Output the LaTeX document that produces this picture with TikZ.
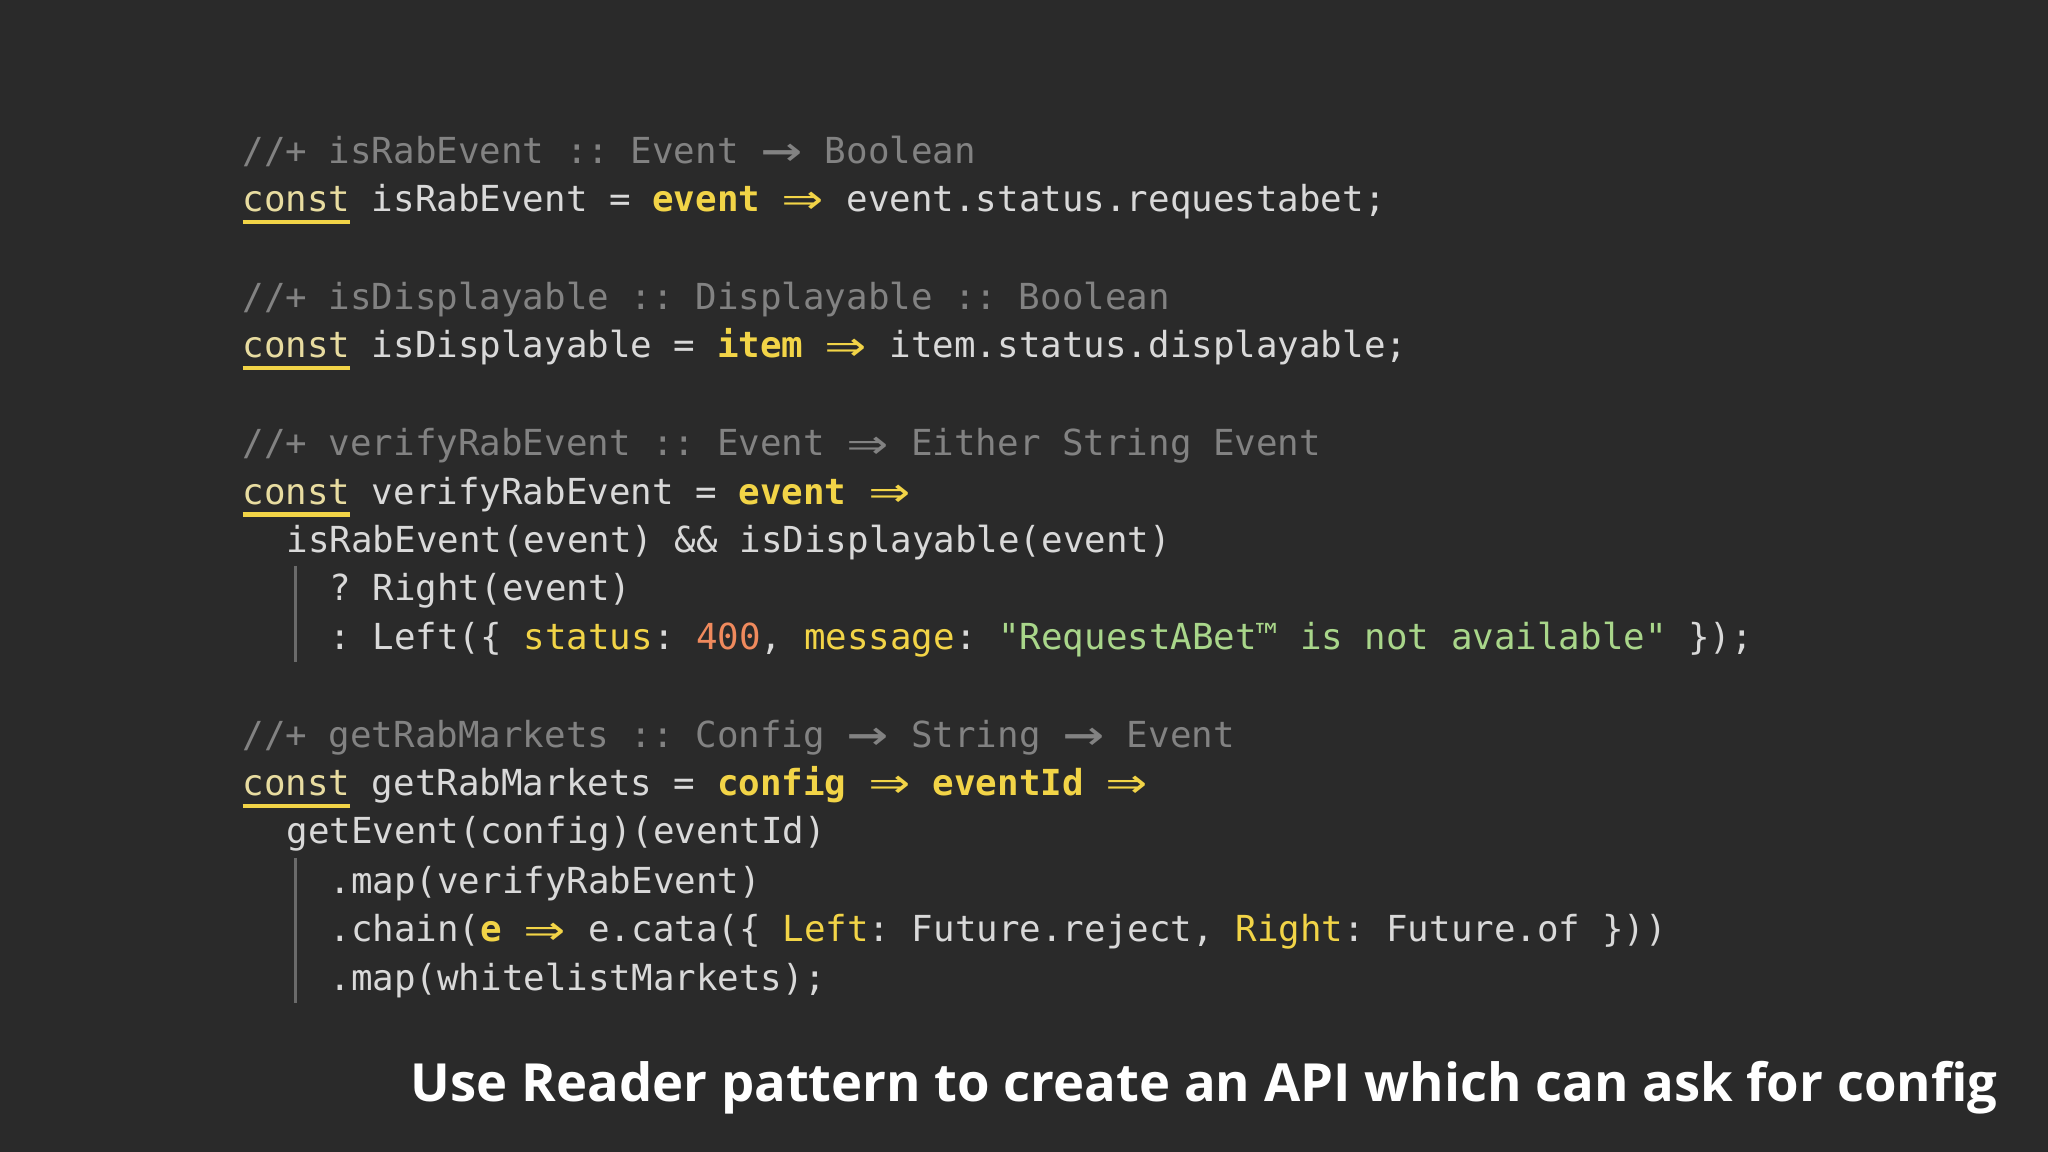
\documentclass[tikz,border=0pt]{standalone}
\usepackage{fontspec}
\usepackage{graphicx}
\setmonofont{DejaVu Sans Mono}
\newfontfamily\capfont{Open Sans}
\definecolor{bg}{HTML}{2A2A2A}
\definecolor{cm}{HTML}{828282}
\definecolor{tx}{HTML}{D9D9D9}
\definecolor{yl}{HTML}{F2D447}
\definecolor{cs}{HTML}{E8DCA0}
\definecolor{nm}{HTML}{F08A5D}
\definecolor{st}{HTML}{A9D68A}
\definecolor{br}{HTML}{6A6A6A}
\newcommand\ar[1]{\makebox[1.204em]{\raisebox{-0.12em}{\scalebox{1.9}[1.5]{#1}}}}
\newcommand\cst{\textcolor{cs}{const}\llap{\textcolor{yl}{\rule[-0.35em]{3.01em}{0.12em}}}}
\newcommand\ky[1]{\textcolor{yl}{\bfseries #1}}
\begin{document}
\begin{tikzpicture}[x=0.01cm,y=-0.01cm,
  ln/.style={anchor=base west,inner sep=0pt,text=tx,font=\ttfamily\fontsize{7.8}{9}\selectfont},
  cmt/.style={ln,text=cm},
  bar/.style={draw=br,line width=0.6pt}]
\fill[bg] (0,0) rectangle (1568,882);
\useasboundingbox (0,0) rectangle (1568,882);
\node[cmt] (c1) at (185,125) {//+ isRabEvent :: Event \ar{→} Boolean};
\node[ln] (l1) at (185,162) {\cst{} isRabEvent = \ky{event} \ar{\textcolor{yl}{⇒}} event.status.requestabet;};
\node[cmt] (c2) at (185,237) {//+ isDisplayable :: Displayable :: Boolean};
\node[ln] (l2) at (185,274) {\cst{} isDisplayable = \ky{item} \ar{\textcolor{yl}{⇒}} item.status.displayable;};
\node[cmt] (c3) at (185,349) {//+ verifyRabEvent :: Event \ar{⇒} Either String Event};
\node[ln] (l3) at (185,386) {\cst{} verifyRabEvent = \ky{event} \ar{\textcolor{yl}{⇒}}};
\node[ln] (l4) at (218.8,423) {isRabEvent(event) \&\& isDisplayable(event)};
\node[ln] (l5) at (251.6,460) {? Right(event)};
\node[ln] (l6) at (251.6,497) {: Left(\{ \textcolor{yl}{status}: \textcolor{nm}{400}, \textcolor{yl}{message}: \textcolor{st}{"RequestABet™ is not available"} \});};
\node[cmt] (c4) at (185,572) {//+ getRabMarkets :: Config \ar{→} String \ar{→} Event};
\node[ln] (l7) at (185,609) {\cst{} getRabMarkets = \ky{config} \ar{\textcolor{yl}{⇒}} \ky{eventId} \ar{\textcolor{yl}{⇒}}};
\node[ln] (l8) at (218.8,646) {getEvent(config)(eventId)};
\node[ln] (l9) at (251.6,684) {.map(verifyRabEvent)};
\node[ln] (l10) at (251.6,721) {.chain(\ky{e} \ar{\textcolor{yl}{⇒}} e.cata(\{ \textcolor{yl}{Left}: Future.reject, \textcolor{yl}{Right}: Future.of \}))};
\node[ln] (l11) at (251.6,758) {.map(whitelistMarkets);};
\coordinate (b1a) at (226,433); \coordinate (b1b) at (226,507);
\coordinate (b2a) at (226,657); \coordinate (b2b) at (226,768);
\draw[bar] (b1a) -- (b1b);
\draw[bar] (b2a) -- (b2b);
\node[anchor=base east,inner sep=0pt,text=white,font=\capfont\bfseries\fontsize{11.45}{14}\selectfont] (cap) at (1530,843) {Use Reader pattern to create an API which can ask for config};
\end{tikzpicture}
\end{document}
